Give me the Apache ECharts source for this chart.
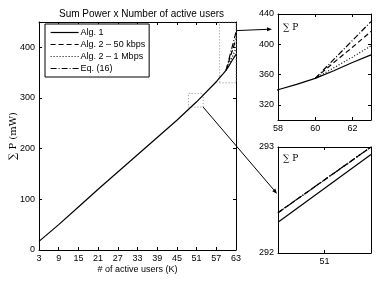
<!DOCTYPE html>
<html><head><meta charset="utf-8">
<script src="https://cdn.jsdelivr.net/npm/echarts@6/dist/echarts.min.js"></script>
<style>html,body{margin:0;padding:0;background:#fff}#c{width:378px;height:281px}</style>
</head><body><div id="c"></div>
<script>
// ---- data ----
const titleText = 'Sum Power x Number of active users';
const seriesNames = ['Alg. 1', 'Alg. 2 \u2013 50 kbps', 'Alg. 2 \u2013 1 Mbps', 'Eq. (16)'];
const xMain = [3, 9, 15, 21, 27, 33, 39, 45, 51, 57, 58, 59, 60, 61, 62, 63];
const alg1 = [17, 50, 85, 120, 154, 188, 222, 256, 292.5, 332, 340, 347, 355, 365, 376, 386];
const xTail = [60, 61, 62, 63];
const alg2_50k = [355, 376, 396, 417];
const alg2_1M = [355, 369, 383, 398];
const eq16 = [355, 380, 405, 430];
const xZoom2 = [50.95, 51.05];
const alg1Zoom2 = [292.29, 292.93];
const altZoom2 = [292.38, 293.0];
const mainXTicks = [3, 9, 15, 21, 27, 33, 39, 45, 51, 57, 63];
const mainYTicks = [0, 100, 200, 300, 400];
const in1XTicks = [58, 60, 62];
const in1YTicks = [320, 360, 400, 440];
const in2XTicks = [51];
const in2YTicks = [292, 293];
const box1 = [[48.5, 282], [53, 309]];
const box2 = [[58, 330], [63, 450]];

const dashTypes = ['solid', [5, 3], [1, 2], [6, 2, 1, 2]];
const FONT = 'Liberation Sans';
const LW = 1.2;

function axisPair(gridIndex, min, max, ticks, isX) {
  const base = {
    type: 'value', gridIndex, min, max,
    axisLine: { show: true, onZero: false, lineStyle: { color: '#000', width: 1 } },
    axisTick: { show: true, inside: true, length: 3, customValues: ticks, lineStyle: { color: '#000' } },
    axisLabel: { show: true, customValues: ticks, color: '#000', fontSize: 9, fontFamily: FONT, margin: 4, hideOverlap: false },
    splitLine: { show: false }
  };
  const mirror = JSON.parse(JSON.stringify(base));
  mirror.axisLabel.show = false;
  mirror.position = isX ? 'top' : 'right';
  base.position = isX ? 'bottom' : 'left';
  return [base, mirror];
}

const grids = [
  { left: 37, top: 22, width: 199, height: 228 },
  { left: 278, top: 14, width: 93, height: 106 },
  { left: 278, top: 147, width: 93, height: 106 }
];
const xAxes = [], yAxes = [];
const xa0 = axisPair(0, 3, 63, mainXTicks, true);
xa0[0].name = '# of active users (K)'; xa0[0].nameLocation = 'middle'; xa0[0].nameGap = 15;
xa0[0].nameMoveOverlap = false;
xa0[0].nameTextStyle = { fontSize: 9, fontFamily: FONT, color: '#000' };
const ya0 = axisPair(0, 0, 450, mainYTicks, false);
ya0[0].name = '\u2211 P (mW)'; ya0[0].nameLocation = 'middle'; ya0[0].nameGap = 21;
ya0[0].nameMoveOverlap = false;
ya0[0].nameTextStyle = { fontSize: 10, fontFamily: 'DejaVu Serif', color: '#000' };
xAxes.push(...xa0, ...axisPair(1, 58, 63, in1XTicks, true), ...axisPair(2, 50.95, 51.05, in2XTicks, true));
yAxes.push(...ya0, ...axisPair(1, 300, 440, in1YTicks, false), ...axisPair(2, 292, 293, in2YTicks, false));

function lineSeries(name, gi, xs, ys, type, extra) {
  return Object.assign({
    name, type: 'line', xAxisIndex: gi * 2, yAxisIndex: gi * 2,
    data: xs.map((x, i) => [x, ys[i]]),
    showSymbol: false, symbol: 'none', animation: false, silent: true,
    lineStyle: { color: '#000', width: LW, type },
    itemStyle: { color: '#000' }
  }, extra || {});
}

const series = [];
series.push(lineSeries(seriesNames[0], 0, xMain, alg1, dashTypes[0], {
  markArea: {
    silent: true,
    itemStyle: { color: 'rgba(0,0,0,0)', borderColor: '#888', borderWidth: 1, borderType: [1, 2] },
    data: [[{ coord: box1[0] }, { coord: box1[1] }], [{ coord: box2[0] }, { coord: box2[1] }]]
  }
}));
series.push(lineSeries(seriesNames[1], 0, xTail, alg2_50k, dashTypes[1]));
series.push(lineSeries(seriesNames[2], 0, xTail, alg2_1M, dashTypes[2]));
series.push(lineSeries(seriesNames[3], 0, xTail, eq16, dashTypes[3]));
series.push(lineSeries(seriesNames[0], 1, xMain, alg1, dashTypes[0]));
series.push(lineSeries(seriesNames[1], 1, xTail, alg2_50k, dashTypes[1]));
series.push(lineSeries(seriesNames[2], 1, xTail, alg2_1M, dashTypes[2]));
series.push(lineSeries(seriesNames[3], 1, xTail, eq16, dashTypes[3]));
series.push(lineSeries(seriesNames[0], 2, xZoom2, alg1Zoom2, dashTypes[0]));
series.push(lineSeries(seriesNames[1], 2, xZoom2, altZoom2, dashTypes[1]));
series.push(lineSeries(seriesNames[2], 2, xZoom2, altZoom2, dashTypes[2]));
series.push(lineSeries(seriesNames[3], 2, xZoom2, altZoom2, dashTypes[3]));

const chart = echarts.init(document.getElementById('c'), null, { renderer: 'canvas' });
chart.setOption({
  animation: false,
  backgroundColor: '#fff',
  title: {
    text: titleText, left: 136.5, top: 4, textAlign: 'center',
    textStyle: { fontSize: 10, fontWeight: 'normal', fontFamily: FONT, color: '#000' }
  },
  legend: {
    data: seriesNames, orient: 'vertical', left: 45, top: 24,
    padding: [4, 4, 4, 5], itemGap: 3, itemWidth: 28, itemHeight: 10,
    borderColor: '#000', borderWidth: 1, backgroundColor: '#fff',
    itemStyle: { opacity: 0, borderWidth: 0 },
    lineStyle: { width: LW },
    textStyle: { fontSize: 9, fontFamily: FONT, color: '#000', padding: [0, 0, 0, -3] },
    selectedMode: false
  },
  grid: grids,
  xAxis: xAxes,
  yAxis: yAxes,
  series
});

function px(gi, pt) { return chart.convertToPixel({ xAxisIndex: gi * 2, yAxisIndex: gi * 2 }, pt); }
function arrow(p0, p1) {
  const dx = p1[0] - p0[0], dy = p1[1] - p0[1];
  const L = Math.sqrt(dx * dx + dy * dy), ux = dx / L, uy = dy / L;
  const hl = 5, hw = 2;
  const b = [p1[0] - ux * hl, p1[1] - uy * hl];
  return [
    { type: 'line', shape: { x1: p0[0], y1: p0[1], x2: b[0], y2: b[1] }, style: { stroke: '#000', lineWidth: 1 }, silent: true },
    { type: 'polygon', shape: { points: [p1, [b[0] - uy * hw, b[1] + ux * hw], [b[0] + uy * hw, b[1] - ux * hw]] }, style: { fill: '#000' }, silent: true }
  ];
}
const a1s = px(0, [63, 433]);
const a1e = px(1, [58, 420]); a1e[0] -= 6;
const a2s = px(0, [box1[1][0], box1[0][1]]);
const a2e = px(2, [50.95, 292.56]); a2e[0] -= 1;
const t1 = px(1, [58, 440]);
const t2 = px(2, [50.95, 293]);
chart.setOption({
  graphic: [
    ...arrow(a1s, a1e), ...arrow(a2s, a2e),
    { type: 'text', left: t1[0] + 5, top: t1[1] + 9, style: { text: '\u2211 P', font: '9px "DejaVu Serif"', fill: '#000' }, silent: true },
    { type: 'text', left: t2[0] + 5, top: t2[1] + 7, style: { text: '\u2211 P', font: '9px "DejaVu Serif"', fill: '#000' }, silent: true }
  ]
});
</script></body></html>
